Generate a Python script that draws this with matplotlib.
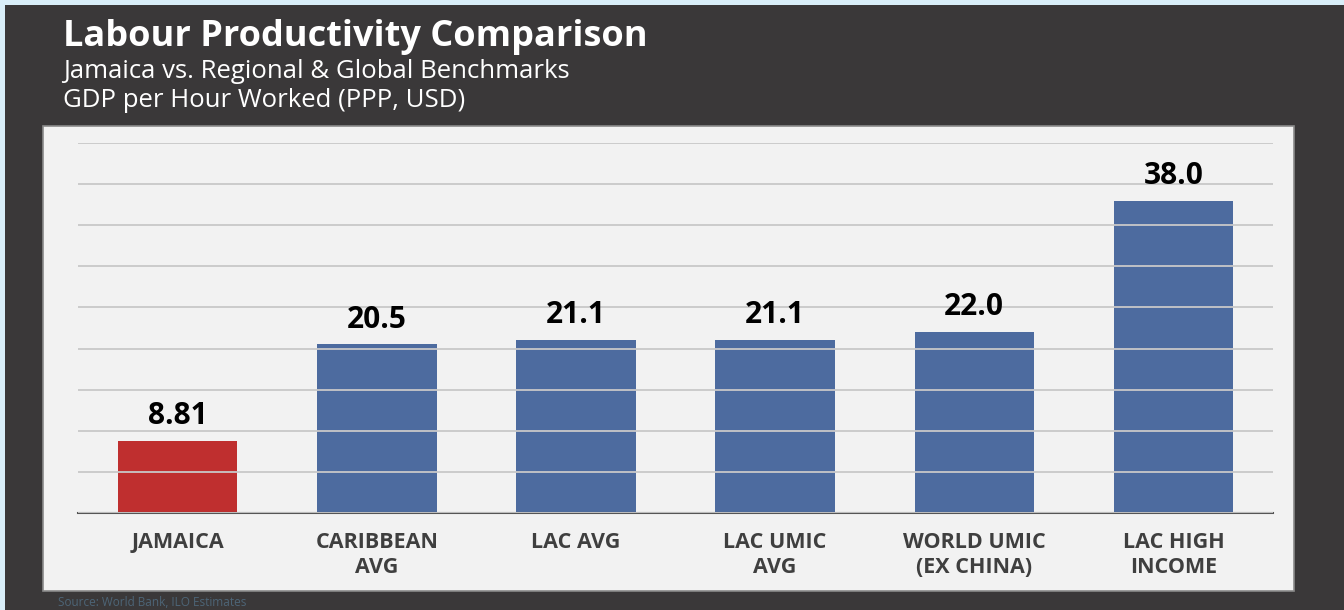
import matplotlib
matplotlib.use("Agg")
import matplotlib.pyplot as plt
from matplotlib.patches import Rectangle

categories = ["JAMAICA", "CARIBBEAN\nAVG", "LAC AVG", "LAC UMIC\nAVG", "WORLD UMIC\n(EX CHINA)", "LAC HIGH\nINCOME"]
values = [8.81, 20.5, 21.1, 21.1, 22.0, 38.0]
value_labels = ["8.81", "20.5", "21.1", "21.1", "22.0", "38.0"]
colors = ["#BE2828", "#48679C", "#48679C", "#48679C", "#48679C", "#48679C"]
yticks = [0, 5, 10, 15, 20, 25, 30, 35, 40, 45]

W, H = 1344, 610
fig = plt.figure(figsize=(W / 100, H / 100), dpi=100)
fig.patch.set_facecolor("#d9eef9")

def px(x, y, w, h):
    return (x / W, 1 - (y + h) / H, w / W, h / H)

# dark panel
x0, y0, w0, h0 = px(5, 5, W - 5, H - 5)
fig.patches.append(Rectangle((x0, y0), w0, h0, transform=fig.transFigure,
                             facecolor="#3a3839", edgecolor="none", zorder=0))
# light plot panel
x1, y1, w1, h1 = px(43, 126, 1251, 465)
fig.patches.append(Rectangle((x1, y1), w1, h1, transform=fig.transFigure,
                             facecolor="#f2f2f2", edgecolor="#8a8a8a", linewidth=1.2, zorder=1))

font = "Open Sans"
fig.text(63 / W, 1 - 46 / H, "Labour Productivity Comparison", color="white",
         fontsize=26, fontweight="bold", family=font, va="baseline", ha="left")
fig.text(63 / W, 1 - 78 / H, "Jamaica vs. Regional & Global Benchmarks", color="white",
         fontsize=18.5, family=font, va="baseline", ha="left")
fig.text(63 / W, 1 - 107 / H, "GDP per Hour Worked (PPP, USD)", color="white",
         fontsize=18.5, family=font, va="baseline", ha="left")
fig.text(58 / W, 1 - 606 / H, "Source: World Bank, ILO Estimates", color="#4d6577",
         fontsize=8.5, family=font, va="baseline", ha="left")

ax = fig.add_axes(px(78, 143, 1195, 370))
ax.set_facecolor("none")
ax.set_zorder(2)
x = list(range(len(categories)))
ax.bar(x, values, width=0.6, color=colors, alpha=0.97, edgecolor="none", zorder=1)
ax.set_xlim(-0.5, len(categories) - 0.5)
ax.set_ylim(0, 45)
ax.set_yticks(yticks)
ax.yaxis.grid(True, color="#c8c8c8", linewidth=1.3, zorder=2)
ax.set_axisbelow(False)
for s in ["top", "right", "left"]:
    ax.spines[s].set_visible(False)
ax.spines["bottom"].set_color("#555555")
ax.spines["bottom"].set_linewidth(1.5)
ax.tick_params(axis="y", length=0, labelleft=False)
ax.tick_params(axis="x", length=0, pad=14)
ax.set_xticks(x)
ax.set_xticklabels(categories, fontsize=15.5, fontweight="bold", family=font,
                   color="#3f3f3f", linespacing=1.25, va="top")
for xi, v, lab in zip(x, values, value_labels):
    ax.text(xi, v + 1.2, lab, ha="center", va="bottom", fontsize=21.5,
            fontweight="bold", family=font, color="black", zorder=3)

fig.savefig("out.png", dpi=100)
